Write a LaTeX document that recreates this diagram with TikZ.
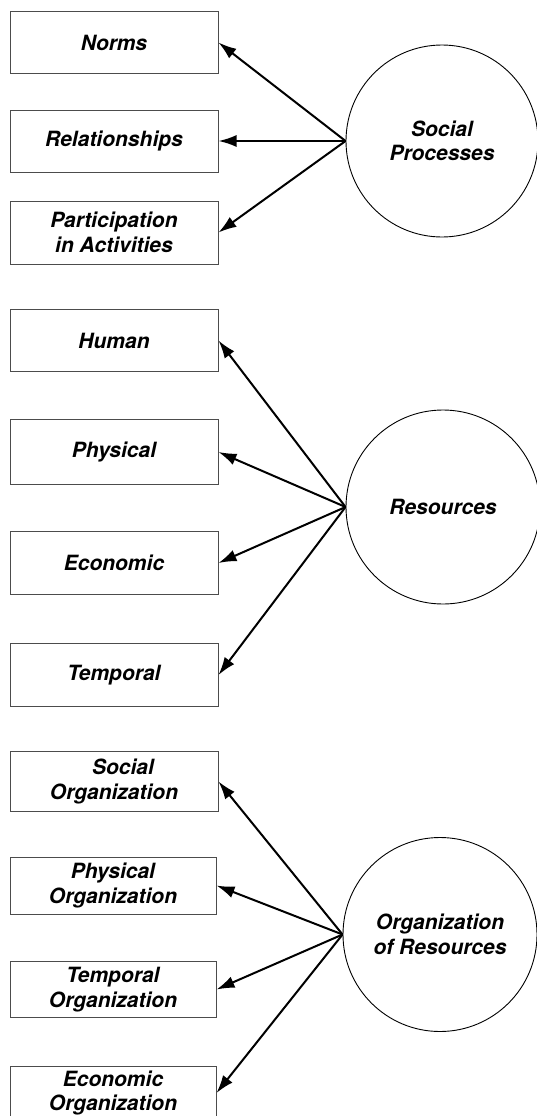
\documentclass[tikz,border=0pt]{standalone}
\usepackage{fontspec}
\setmainfont{TeX Gyre Heros}
\usetikzlibrary{arrows.meta}

\tikzset{
	item/.style={rectangle, draw=black!70, line width=1pt, minimum width=208pt, minimum height=62pt, inner sep=0pt, align=center, font=\fontsize{21}{24.5}\selectfont\bfseries\itshape},
	factor/.style={circle, draw, line width=0.9pt, minimum size=194pt, inner sep=0pt, align=center, font=\fontsize{21}{24.5}\selectfont\bfseries\itshape},
	link/.style={line width=2pt, ->}
}

\begin{document}
\begin{tikzpicture}[x=1pt, y=-1pt, >={Latex[length=18pt, width=12pt]}]
	%%%	Help Lines
%	\draw [thin, help lines] (0,0) grid[step=50] (536,1116);
	\useasboundingbox (0,0) rectangle (536,1116);
	%%%	Disegno
	% Social Processes
	\node[item] (norms) at (114,42.5) {Norms};
	\node[item] (relations) at (114,141) {Relationships};
	\node[item, minimum height=63pt] (participation) at (114,232.5) {Participation\\in Activities};
	\node[factor, minimum size=192pt] (social) at (442,141) {Social\\Processes};
	
	\draw[link] (social.west) -- (norms.east);
	\draw[link] (social.west) -- (relations.east);
	\draw[link] (social.west) -- (participation.east);
	
	% Resources
	\node[item] (human) at (114,340.5) {Human};
	\node[item, minimum height=65pt] (physical) at (114,452) {Physical};
	\node[item, minimum height=63pt] (economic) at (114,563) {Economic};
	\node[item, minimum height=63pt] (temporal) at (114,675) {Temporal};
	\node[factor] (resources) at (443,507) {Resources};
	
	\draw[link] (resources.west) -- (human.east);
	\draw[link] (resources.west) -- (physical.east);
	\draw[link] (resources.west) -- (economic.east);
	\draw[link] (resources.west) -- (temporal.east);
	
	% Organization of Resources
	\node[item, minimum height=60pt] (socorg) at (114,781.5) {\hspace*{18pt}Social\\Organization};
	\node[item, minimum width=206pt, minimum height=57pt] (physorg) at (113,885.5) {Physical\\Organization};
	\node[item, minimum width=206pt, minimum height=56pt] (temporg) at (113,989.5) {Temporal\\Organization};
	\node[item, minimum width=206pt, minimum height=54pt] (econorg) at (113,1093) {Economic\\Organization};
	\node[factor] (organization) at (440,934.5) {Organization\\of Resources};
	
	\draw[link] (organization.west) -- (socorg.east);
	\draw[link] (organization.west) -- (physorg.east);
	\draw[link] (organization.west) -- (temporg.east);
	\draw[link] (organization.west) -- (econorg.east);
	
\end{tikzpicture}
\end{document}
